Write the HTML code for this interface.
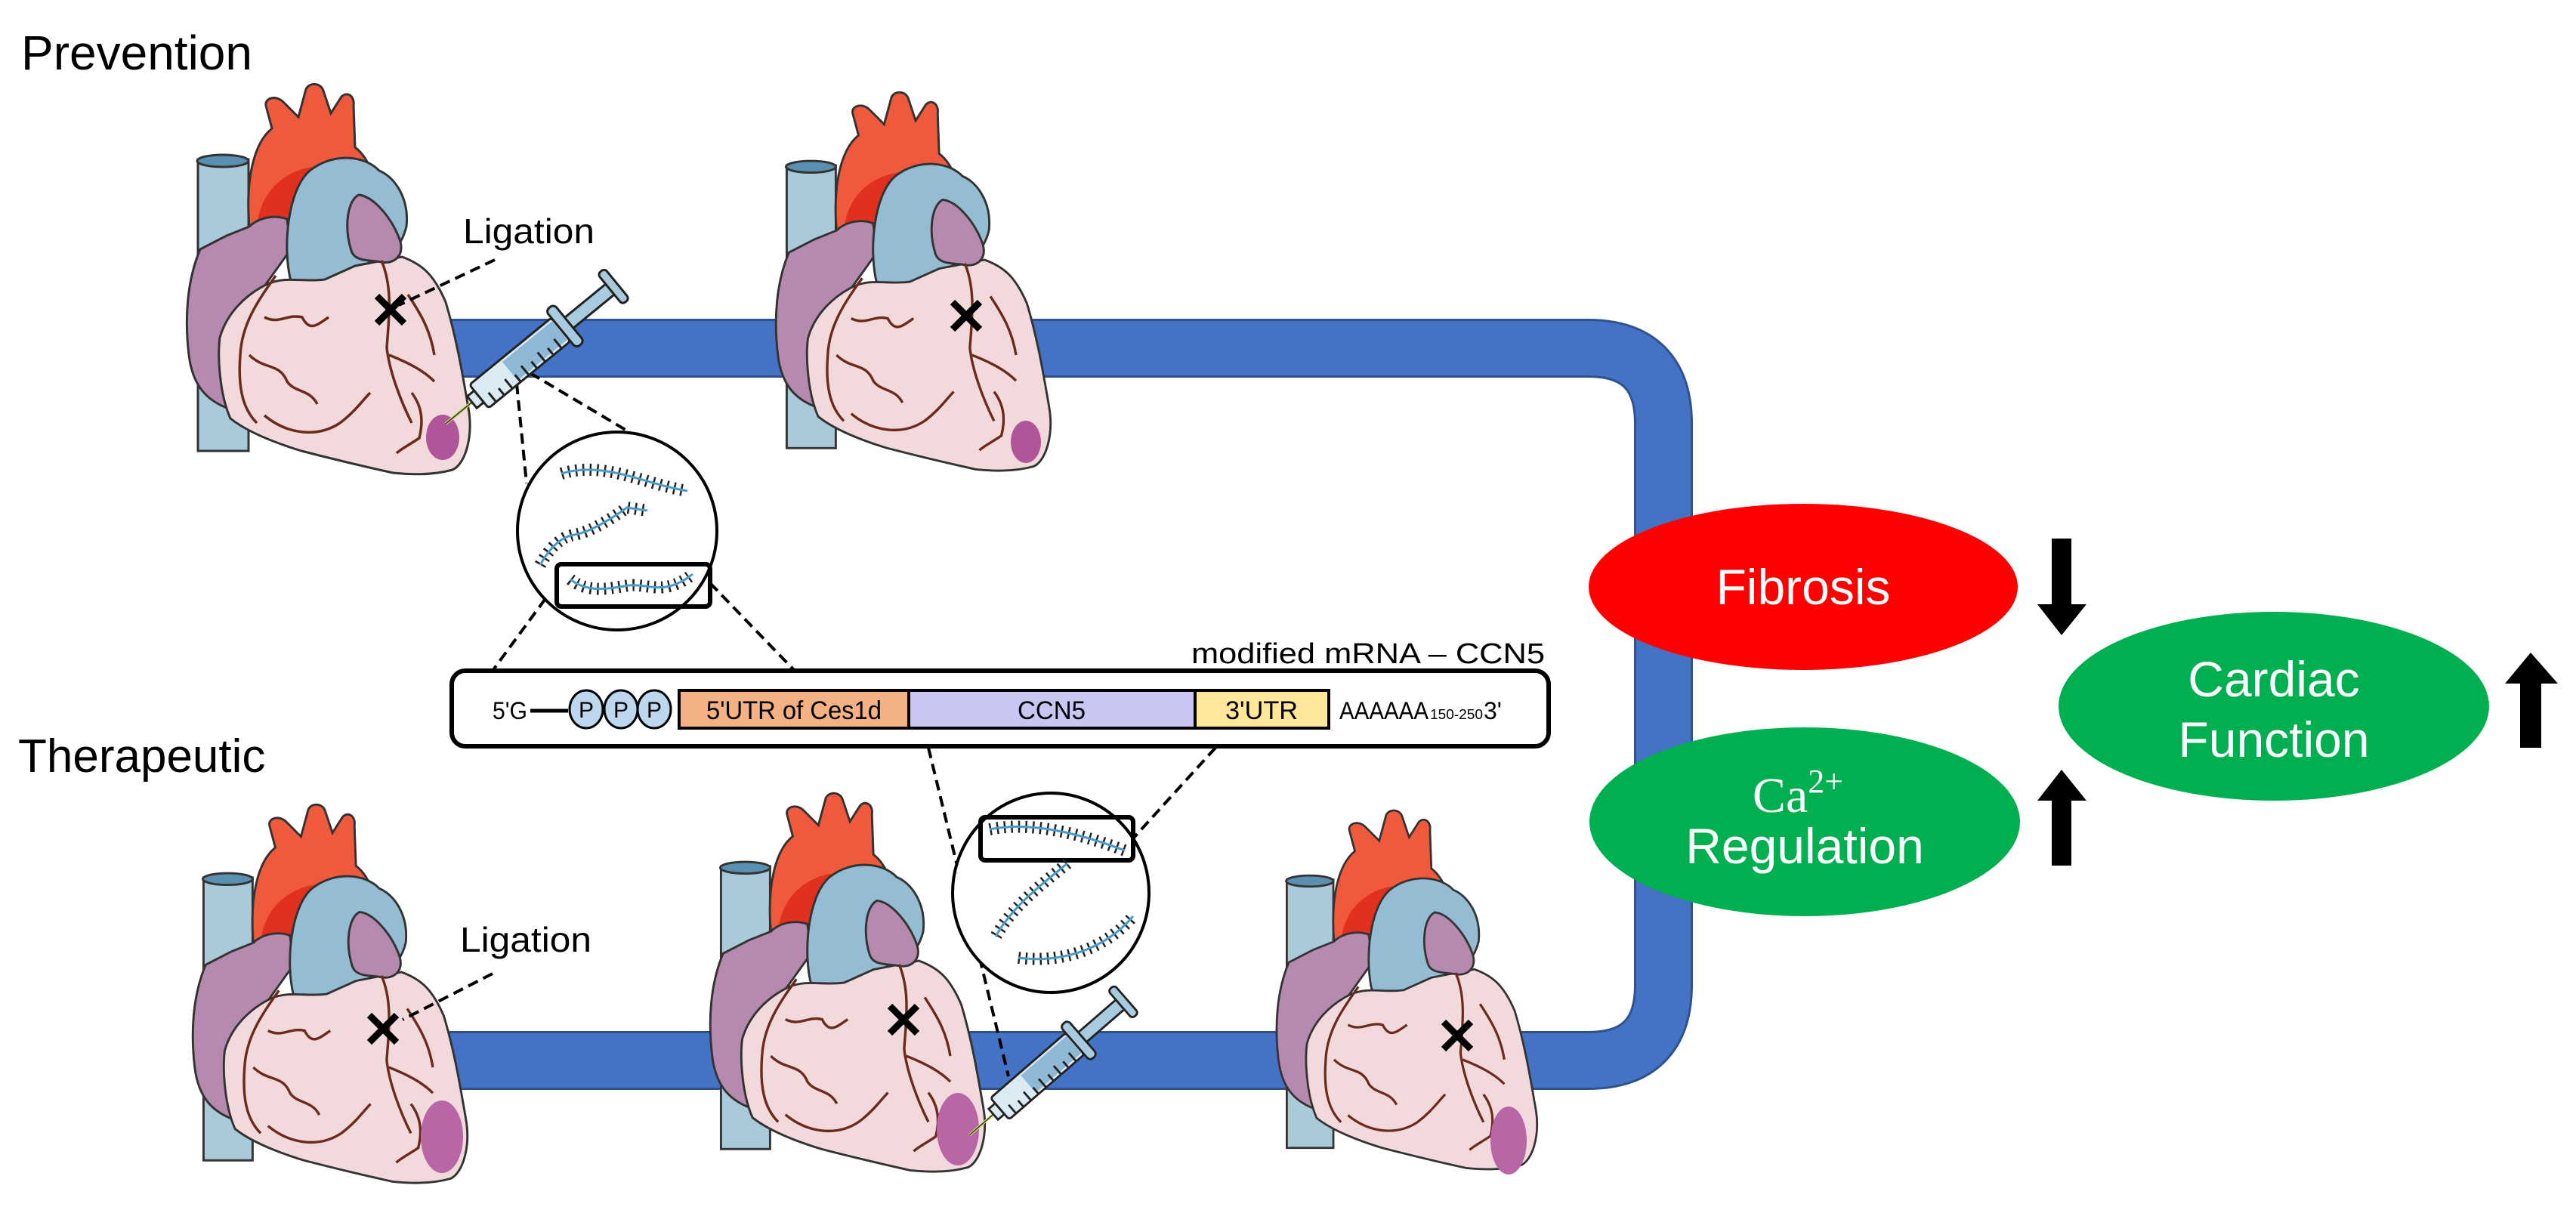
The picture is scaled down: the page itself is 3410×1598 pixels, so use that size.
<!DOCTYPE html>
<html><head><meta charset="utf-8"><style>html,body{margin:0;padding:0;background:#fff}svg{display:block}</style></head>
<body>
<svg width="3410" height="1598" viewBox="0 0 3410 1598" xmlns="http://www.w3.org/2000/svg" font-family="Liberation Sans, Arial, sans-serif">
<defs>
<g id="heart">
  <rect x="262" y="211" width="67" height="386" fill="#A9CBD9" stroke="#333" stroke-width="3"/>
  <ellipse cx="295" cy="213" rx="34" ry="8" fill="#5A8FB0" stroke="#333" stroke-width="3"/>
  <path d="M330,300 C325,240 335,190 360,170 L352,140 C350,130 365,125 375,135 L395,155 L405,118 C410,108 425,110 428,120 L438,150 L452,128 C460,120 470,128 468,140 L470,195 C490,210 505,250 505,300 Z" fill="#F05A3C" stroke="#333" stroke-width="3"/>
  <path d="M340,300 C345,240 400,205 470,225 L490,300 Z" fill="#E2301E"/>
  <path d="M265,330 C248,370 244,420 250,470 C255,512 275,530 300,540 L335,400 L385,330 L380,290 C360,283 340,290 330,300 L300,312 Z" fill="#B58AAE" stroke="#333" stroke-width="3"/>
  <path d="M385,372 C374,330 380,252 410,226 C440,202 482,205 502,226 C522,234 542,262 538,300 C530,332 510,342 490,342 L482,372 C450,380 410,378 385,372 Z" fill="#94BDD4" stroke="#333" stroke-width="3"/>
  <path d="M354,376 C380,365 400,374 430,370 L470,352 L532,340 C560,350 575,365 590,400 C605,450 613,500 620,540 C627,580 615,615 599,622 C570,630 540,628 520,626 C470,615 430,605 399,597 C360,585 325,570 305,554 C290,520 288,470 291,447 C300,415 325,390 354,376 Z" fill="#F2D9DC" stroke="#333" stroke-width="3"/>
  <path d="M465,332 C455,300 460,265 475,258 C495,260 520,290 530,320 C535,340 520,350 505,347 C490,344 470,347 465,332 Z" fill="#B58AAE" stroke="#333" stroke-width="3"/>
  <g fill="none" stroke="#6B2A1A" stroke-width="3.5">
    <path d="M365,365 C340,400 320,430 318,470 C315,510 320,540 340,560"/>
    <path d="M505,345 C520,380 515,420 512,460 C515,490 530,530 545,560"/>
    <path d="M350,420 C370,430 380,415 400,420 C410,440 420,430 435,420"/>
    <path d="M330,470 C350,490 370,480 380,505 C390,520 410,515 420,535"/>
    <path d="M350,550 C380,575 420,580 450,560 C470,545 480,530 490,520"/>
    <path d="M540,390 C560,420 570,440 575,470"/>
    <path d="M515,470 C540,480 560,490 575,505"/>
    <path d="M545,520 C560,540 560,560 555,580 C540,590 530,595 525,600"/>
  </g>
</g>
<g id="syr">
  <line x1="0" y1="0" x2="50" y2="0" stroke="#C9D96A" stroke-width="4"/>
  <line x1="0" y1="0" x2="50" y2="0" stroke="#333" stroke-width="1.5"/>
  <rect x="45" y="-10" width="12" height="20" fill="#DCE8F0" stroke="#222" stroke-width="3"/>
  <rect x="57" y="-20" width="140" height="40" rx="4" fill="#DCEBF3" stroke="#222" stroke-width="3"/>
  <rect x="110" y="-16" width="85" height="32" fill="#8FB8D6"/>
  <g stroke="#222" stroke-width="3"><line x1="70" y1="20" x2="70" y2="4"/><line x1="84" y1="20" x2="84" y2="8"/><line x1="98" y1="20" x2="98" y2="4"/><line x1="112" y1="20" x2="112" y2="8"/><line x1="126" y1="20" x2="126" y2="4"/><line x1="140" y1="20" x2="140" y2="8"/><line x1="154" y1="20" x2="154" y2="4"/><line x1="168" y1="20" x2="168" y2="8"/><line x1="182" y1="20" x2="182" y2="4"/></g>
  <rect x="197" y="-32" width="14" height="64" rx="6" fill="#A9CBE0" stroke="#222" stroke-width="3"/>
  <rect x="211" y="-9" width="70" height="18" fill="#A9CBE0" stroke="#222" stroke-width="3"/>
  <rect x="281" y="-26" width="12" height="52" rx="5" fill="#A9CBE0" stroke="#222" stroke-width="3"/>
</g>
</defs>

<path d="M590 461 H2102 Q2202 461 2202 561 V1304 Q2202 1404 2102 1404 H576" fill="none" stroke="#2F528F" stroke-width="78"/>
<path d="M590 461 H2102 Q2202 461 2202 561 V1304 Q2202 1404 2102 1404 H576" fill="none" stroke="#4472C4" stroke-width="72"/>

<use href="#heart"/>
<use href="#heart" transform="translate(1022,117) scale(0.97) translate(-242,-106)"/>
<use href="#heart" transform="translate(250,1060) scale(0.97) translate(-242,-106)"/>
<use href="#heart" transform="translate(935,1045) scale(0.97) translate(-242,-106)"/>
<use href="#heart" transform="translate(1685,1068) scale(0.92) translate(-242,-106)"/>
<ellipse cx="586" cy="579" rx="22" ry="30" fill="#B0559A"/>
<ellipse cx="1358" cy="585" rx="20" ry="28" fill="#B0559A"/>
<ellipse cx="585" cy="1505" rx="28" ry="48" fill="#B866A6"/>
<ellipse cx="1268" cy="1495" rx="28" ry="48" fill="#B866A6"/>
<ellipse cx="1997" cy="1510" rx="24" ry="45" fill="#B866A6"/>

<g stroke="#000" stroke-width="9">
<path d="M499,392 L535,428 M535,392 L499,428"/>
<path d="M1261,400 L1297,436 M1297,400 L1261,436"/>
<path d="M489,1344 L525,1380 M525,1344 L489,1380"/>
<path d="M1178,1332 L1214,1368 M1214,1332 L1178,1368"/>
<path d="M1911,1353 L1947,1389 M1947,1353 L1911,1389"/>
</g>

<g stroke="#000" stroke-width="4" stroke-dasharray="14 8" fill="none">
<line x1="655" y1="344" x2="528" y2="404"/>
<line x1="652" y1="1289" x2="533" y2="1350"/>
<line x1="684" y1="508" x2="697" y2="640"/>
<line x1="702" y1="494" x2="833" y2="572"/>
<line x1="735" y1="775" x2="652" y2="888"/>
<line x1="940" y1="772" x2="1052" y2="888"/>
<line x1="1229" y1="990" x2="1335" y2="1425"/>
<line x1="1609" y1="990" x2="1500" y2="1110"/>
</g>

<use href="#syr" transform="translate(590,561) rotate(-39.3)"/>
<use href="#syr" transform="translate(1283,1503) rotate(-40.9) scale(0.94)"/>

<ellipse cx="817" cy="703" rx="132" ry="131" fill="#fff" stroke="#000" stroke-width="4"/>
<rect x="737" y="747" width="203" height="56" rx="6" fill="none" stroke="#000" stroke-width="6"/>
<ellipse cx="1391" cy="1182" rx="130" ry="132" fill="#fff" stroke="#000" stroke-width="4"/>
<rect x="1298" y="1082" width="202" height="57" rx="6" fill="none" stroke="#000" stroke-width="6"/>
<g fill="none">
 <g stroke="#222" stroke-width="16" stroke-dasharray="2.5 7">
  <path d="M743,627 C800,610 850,640 910,650"/>
  <path d="M715,748 Q735,712 760,708 T830,672 L857,676"/>
  <path d="M755,767 C780,787 810,778 833,775 S880,790 917,760"/>
  <path d="M1310,1098 C1360,1088 1420,1100 1489,1126"/>
  <path d="M1413,1143 C1380,1170 1340,1200 1318,1240"/>
  <path d="M1348,1268 C1400,1275 1460,1260 1500,1213"/>
 </g>
 <g stroke="#4A9CC8" stroke-width="3">
  <path d="M743,627 C800,610 850,640 910,650"/>
  <path d="M715,748 Q735,712 760,708 T830,672 L857,676"/>
  <path d="M755,767 C780,787 810,778 833,775 S880,790 917,760"/>
  <path d="M1310,1098 C1360,1088 1420,1100 1489,1126"/>
  <path d="M1413,1143 C1380,1170 1340,1200 1318,1240"/>
  <path d="M1348,1268 C1400,1275 1460,1260 1500,1213"/>
 </g>
</g>

<text x="2045" y="878" font-size="38" text-anchor="end" textLength="468" lengthAdjust="spacingAndGlyphs">modified mRNA – CCN5</text>
<rect x="598" y="888" width="1452" height="100" rx="18" fill="#fff" stroke="#000" stroke-width="6"/>
<rect x="899" y="914" width="304" height="50" fill="#F4B183" stroke="#000" stroke-width="4"/>
<rect x="1203" y="914" width="379" height="50" fill="#C9C6F4" stroke="#000" stroke-width="4"/>
<rect x="1582" y="914" width="177" height="50" fill="#FFE699" stroke="#000" stroke-width="4"/>
<text x="652" y="952" font-size="32" textLength="46" lengthAdjust="spacingAndGlyphs">5'G</text>
<line x1="702" y1="941" x2="752" y2="941" stroke="#000" stroke-width="5"/>
<g fill="#BDD7EE" stroke="#000" stroke-width="3"><ellipse cx="776" cy="939" rx="22" ry="25"/><ellipse cx="822" cy="939" rx="22" ry="25"/><ellipse cx="866" cy="939" rx="22" ry="25"/></g>
<g font-size="30" text-anchor="middle"><text x="776" y="950">P</text><text x="822" y="950">P</text><text x="866" y="950">P</text></g>
<text x="1051" y="952" font-size="34" text-anchor="middle" textLength="232" lengthAdjust="spacingAndGlyphs">5'UTR of Ces1d</text>
<text x="1392" y="952" font-size="34" text-anchor="middle" textLength="90" lengthAdjust="spacingAndGlyphs">CCN5</text>
<text x="1670" y="952" font-size="34" text-anchor="middle" textLength="96" lengthAdjust="spacingAndGlyphs">3'UTR</text>
<text x="1773" y="952" font-size="32" textLength="118" lengthAdjust="spacingAndGlyphs">AAAAAA</text>
<text x="1893" y="952" font-size="18" textLength="70" lengthAdjust="spacingAndGlyphs">150-250</text>
<text x="1964" y="952" font-size="32">3'</text>

<text x="28" y="92" font-size="64">Prevention</text>
<text x="24" y="1022" font-size="62">Therapeutic</text>
<text x="613" y="322" font-size="46" textLength="174" lengthAdjust="spacingAndGlyphs">Ligation</text>
<text x="609" y="1260" font-size="46" textLength="174" lengthAdjust="spacingAndGlyphs">Ligation</text>

<ellipse cx="2387" cy="777" rx="284" ry="110" fill="#FF0000"/>
<ellipse cx="2389" cy="1088" rx="285" ry="125" fill="#00B050"/>
<ellipse cx="3010" cy="935" rx="285" ry="125" fill="#00B050"/>
<g fill="#fff" font-size="66" text-anchor="middle">
<text x="2387" y="800">Fibrosis</text>
<text x="3010" y="922">Cardiac</text>
<text x="3010" y="1002">Function</text>
<text x="2389" y="1143">Regulation</text>
<text x="2380" y="1075" font-family="Liberation Serif, serif">Ca<tspan font-size="44" dy="-26">2+</tspan></text>
</g>

<g fill="#000">
<polygon points="2716,713 2742,713 2742,800 2762,800 2729,841 2697,800 2716,800"/>
<polygon points="2716,1146 2742,1146 2742,1060 2762,1060 2729,1019 2697,1060 2716,1060"/>
<polygon points="3336,990 3364,990 3364,905 3386,905 3350,864 3316,905 3336,905"/>
</g>
</svg>
</body></html>
